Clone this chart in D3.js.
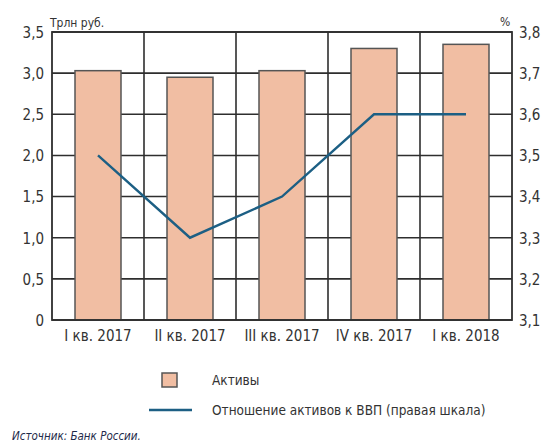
<!DOCTYPE html>
<html>
<head>
<meta charset="utf-8">
<script src="https://cdn.jsdelivr.net/npm/d3@7"></script>
<style>
  body { margin: 0; background: #fff; }
  svg text { font-family: "Liberation Sans Narrow", "DejaVu Sans Condensed", sans-serif; fill: #333; }
</style>
</head>
<body>
<svg id="chart" width="541" height="446"></svg>
<script>
// Quarterly data
const quarters = ["I кв. 2017", "II кв. 2017", "III кв. 2017", "IV кв. 2017", "I кв. 2018"];
const assets = [3.03, 2.95, 3.03, 3.30, 3.35];          // трлн руб.
const ratioToGdp = [3.5, 3.3, 3.4, 3.6, 3.6];            // %
const leftTicks = [0, 0.5, 1.0, 1.5, 2.0, 2.5, 3.0, 3.5];
const rightTicks = [3.1, 3.2, 3.3, 3.4, 3.5, 3.6, 3.7, 3.8];

const svg = d3.select("#chart");
const m = { left: 52, right: 512, top: 32, bottom: 320 };

const x = d3.scaleBand().domain(quarters).range([m.left, m.right]).paddingInner(0.5).paddingOuter(0.25);
const xb = d3.scaleBand().domain(quarters).range([m.left, m.right]);
const yL = d3.scaleLinear().domain([0, 3.5]).range([m.bottom, m.top]);
const yR = d3.scaleLinear().domain([3.1, 3.8]).range([m.bottom, m.top]);

const fmt = v => v === 0 ? "0" : d3.format(".1f")(v).replace(".", ",");
const gridColor = "#2e2e2e";

// horizontal grid
svg.append("g").selectAll("line").data(leftTicks).join("line")
  .attr("x1", m.left).attr("x2", m.right)
  .attr("y1", d => yL(d)).attr("y2", d => yL(d))
  .attr("stroke", gridColor).attr("stroke-width", 1.6);

// vertical separators between quarters
svg.append("g").selectAll("line").data(quarters.slice(1)).join("line")
  .attr("x1", d => xb(d)).attr("x2", d => xb(d))
  .attr("y1", m.top).attr("y2", m.bottom)
  .attr("stroke", gridColor).attr("stroke-width", 1.6);

// bars
svg.append("g").selectAll("rect").data(quarters).join("rect")
  .attr("x", d => x(d))
  .attr("width", x.bandwidth())
  .attr("y", (d, i) => yL(assets[i]))
  .attr("height", (d, i) => yL(0) - yL(assets[i]))
  .attr("fill", "#f1bea3")
  .attr("stroke", "#555")
  .attr("stroke-width", 1.5);

// frame
svg.append("rect")
  .attr("x", m.left).attr("y", m.top)
  .attr("width", m.right - m.left).attr("height", m.bottom - m.top)
  .attr("fill", "none").attr("stroke", gridColor).attr("stroke-width", 1.8);

// ratio line (right scale)
const line = d3.line()
  .x((d, i) => xb(quarters[i]) + xb.bandwidth() / 2)
  .y(d => yR(d));
svg.append("path").datum(ratioToGdp)
  .attr("d", line)
  .attr("fill", "none")
  .attr("stroke", "#1c5f84")
  .attr("stroke-width", 2.4);

// left axis labels
const leftAxis = d3.axisLeft(yL).tickValues(leftTicks).tickFormat(fmt).tickSize(0).tickPadding(8);
svg.append("g").attr("transform", `translate(${m.left},0)`).call(leftAxis)
  .call(g => g.select(".domain").remove())
  .selectAll("text").style("font-size", "15px").attr("dy", "0.36em");

// right axis labels
const rightAxis = d3.axisRight(yR).tickValues(rightTicks).tickFormat(fmt).tickSize(0).tickPadding(7);
svg.append("g").attr("transform", `translate(${m.right},0)`).call(rightAxis)
  .call(g => g.select(".domain").remove())
  .selectAll("text").style("font-size", "15px").attr("dy", "0.36em");

// category labels
const bottomAxis = d3.axisBottom(xb).tickSize(0).tickPadding(10);
svg.append("g").attr("transform", `translate(0,${m.bottom})`).call(bottomAxis)
  .call(g => g.select(".domain").remove())
  .selectAll("text").style("font-size", "15px");

// units
svg.append("text").attr("x", 50).attr("y", 27).style("font-size", "12px").text("Трлн руб.");
svg.append("text").attr("x", 500).attr("y", 26).style("font-size", "12px").text("%");

// legend
svg.append("rect").attr("x", 162).attr("y", 373).attr("width", 15).attr("height", 14)
  .attr("fill", "#f1bea3").attr("stroke", "#555").attr("stroke-width", 1.5);
svg.append("text").attr("x", 212).attr("y", 385).style("font-size", "13.5px").text("Активы");
svg.append("line").attr("x1", 149).attr("x2", 192).attr("y1", 410).attr("y2", 410)
  .attr("stroke", "#1c5f84").attr("stroke-width", 2.4);
svg.append("text").attr("x", 212).attr("y", 415).style("font-size", "13.5px")
  .text("Отношение активов к ВВП (правая шкала)");

// source
svg.append("text").attr("x", 12).attr("y", 440)
  .style("font-size", "11.5px").style("font-style", "italic").style("fill", "#1e2a4a")
  .text("Источник: Банк России.");
</script>
</body>
</html>
